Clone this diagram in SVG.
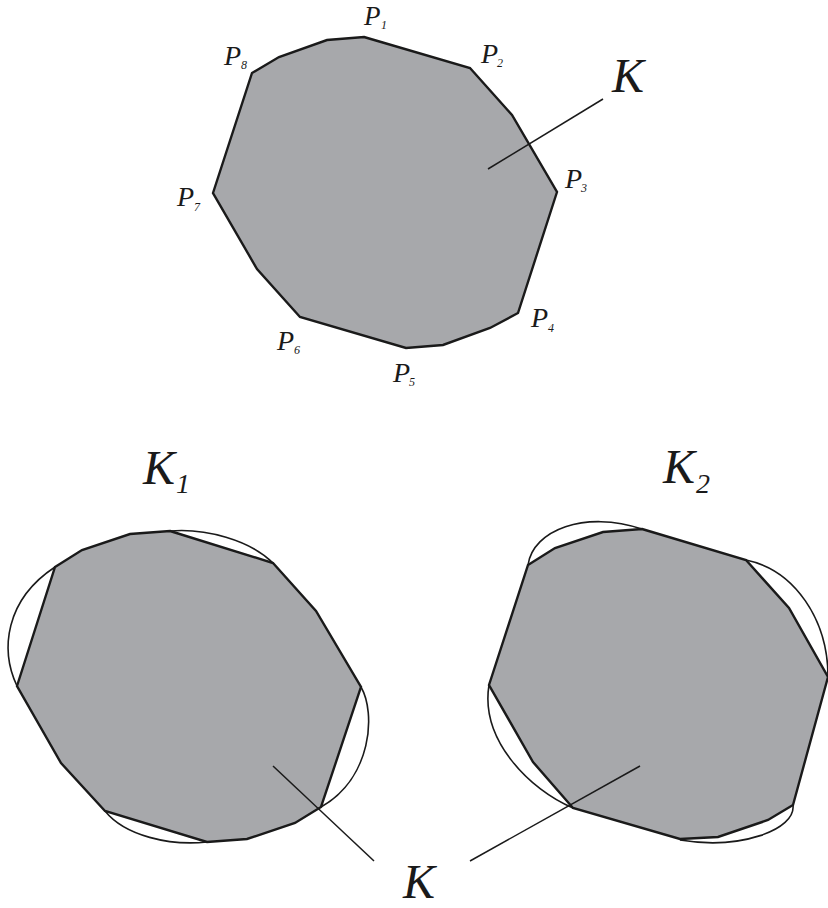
<svg xmlns="http://www.w3.org/2000/svg" width="828" height="908" viewBox="0 0 828 908">
<style>
.poly{fill:#A7A8AB;stroke:#1a1a1a;stroke-width:2.4;stroke-linejoin:miter}
.arc{fill:none;stroke:#1a1a1a;stroke-width:1.6}
.lead{fill:none;stroke:#1a1a1a;stroke-width:1.5}
.lbl{font-family:"Liberation Serif","Times New Roman",serif;font-style:italic;fill:#1a1a1a}
.p{font-size:28px}
.ps{font-size:12px}
.k{font-size:48px}
.ks{font-size:28px}
</style>
<rect width="828" height="908" fill="#fff"/>
<g id="K-top">
<polygon class="poly" points="364,37 470,68 512,115 557,192 518,313 490,328 443,345 406,348 300,317 257,269 213,193 252,73 279,57 327,40"/>
</g>
<g id="P-labels">
<text class="lbl p" x="364" y="25" style="font-size:27px">P</text><text class="lbl ps" x="381" y="29">1</text>
<text class="lbl p" x="481" y="63">P</text><text class="lbl ps" x="497" y="67">2</text>
<text class="lbl p" x="565" y="188">P</text><text class="lbl ps" x="581" y="192">3</text>
<text class="lbl p" x="531" y="327">P</text><text class="lbl ps" x="548" y="332">4</text>
<text class="lbl p" x="393" y="382">P</text><text class="lbl ps" x="409" y="386">5</text>
<text class="lbl p" x="277" y="350">P</text><text class="lbl ps" x="294" y="354">6</text>
<text class="lbl p" x="177" y="206">P</text><text class="lbl ps" x="194" y="211">7</text>
<text class="lbl p" x="224" y="65">P</text><text class="lbl ps" x="241" y="69">8</text>
</g>
<g id="K1">
<polygon class="poly" points="170,531 273,563 316,611 361,687 321,807 295,823 247,839 207,842 105,811 61,763 17,686 55,567 82,550 130,534"/>
<path class="arc" d="M170,531 C205,528 250,540 273,563"/>
<path class="arc" d="M361,687 C376,713 372,778 321,807"/>
<path class="arc" d="M207,842 C170,846 125,836 105,811"/>
<path class="arc" d="M17,686 C0,650 5,600 55,567"/>
</g>
<g id="K2">
<polygon class="poly" points="642,529 746,560 789,608 828,677 793,805 768,820 718,837 680,839 573,808 533,762 489,685 528,565 555,548 603,532"/>
<path class="arc" d="M528,565 C533,530 585,510 642,529"/>
<path class="arc" d="M746,560 C795,570 828,620 828,677"/>
<path class="arc" d="M793,805 C796,830 740,850 680,840"/>
<path class="arc" d="M573,808 C530,790 480,740 489,685"/>
</g>
<g id="connectors">
<line class="lead" x1="488" y1="169" x2="603" y2="99" stroke-width="1.2"/>
<line class="lead" x1="273" y1="766" x2="374" y2="861"/>
<line class="lead" x1="640" y1="766" x2="470" y2="861"/>
</g>
<g id="K-labels">
<text class="lbl k" x="612" y="92">K</text>
<text class="lbl k" x="143" y="484">K</text><text class="lbl ks" x="176" y="493">1</text>
<text class="lbl k" x="663" y="483">K</text><text class="lbl ks" x="696" y="493">2</text>
<text class="lbl k" x="403" y="898">K</text>
</g>
</svg>
